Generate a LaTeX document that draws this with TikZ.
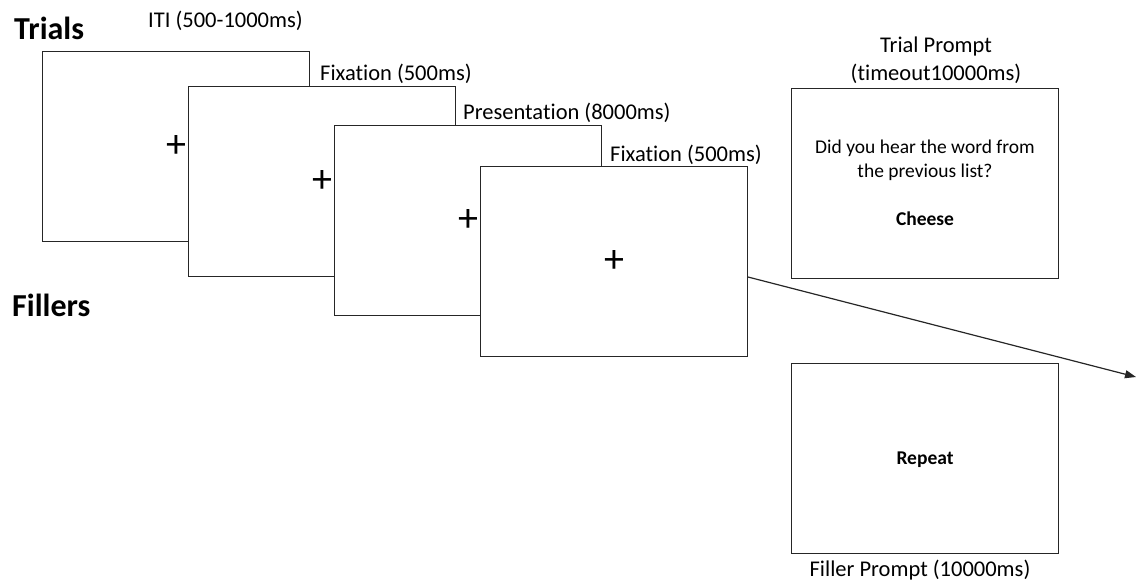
\documentclass[tikz,border=0pt]{standalone}
\usepackage{fontspec}
\setmainfont{Carlito}[Ligatures=NoCommon]
\usetikzlibrary{arrows.meta,positioning}
\tikzset{
  screen/.style={draw=black!85,line width=1pt,fill=white,minimum width=267pt,minimum height=190pt,inner sep=0pt,font=\fontsize{40}{40}\selectfont},
  cue/.style={font=\fontsize{22.5}{28}\selectfont,inner sep=0pt},
  heading/.style={font=\fontsize{32}{32}\selectfont\bfseries,inner sep=0pt},
  prompt/.style={font=\fontsize{19.5}{24}\selectfont,align=center,inner sep=0pt}
}

\begin{document}
\begin{tikzpicture}[x=1pt,y=-1pt]
        \useasboundingbox (0,0) rectangle (1139,584);
        \node[heading,anchor=base west] (trials) at (14,39) {Trials};
        \node[heading,anchor=base west] (fillers) at (12,316) {Fillers};
        % trial sequence
        \foreach \x/\y [count=\i] in {176/146,322/181,468/220,614/261} \node[screen] (s\i) at (\x,\y) {+};
        \node[cue,anchor=base west] (iti) at (148,27) {ITI (500-1000ms)};
        \node[cue,anchor=base west] (fix1) at (320,80) {Fixation (500ms)};
        \node[cue,anchor=base west] (pres) at (463,119) {Presentation (8000ms)};
        \node[cue,anchor=base west] (fix2) at (610,161) {Fixation (500ms)};
        % prompts
        \node[screen] (tprompt) at (925,183) {};
        \node[cue,align=center,anchor=south] (tlabel) at (936,84) {Trial Prompt\\(timeout10000ms)};
        \node[prompt] (question) at (925,160) {Did you hear the word from\\the previous list?};
        \node[prompt,font=\fontsize{19.5}{24}\selectfont\bfseries] (word) at (925,219) {Cheese};
        \node[screen] (fprompt) at (925,458) {};
        \node[prompt,font=\fontsize{19.5}{24}\selectfont\bfseries] (repeat) at (925,460) {Repeat};
        \node[cue] (flabel) at (920,570) {Filler Prompt (10000ms)};
        \coordinate (end) at (1136,377);
        \draw[-{Triangle[length=11pt,width=8pt]},line width=1.2pt,black!85] ([yshift=-16pt]s4.east) -- (end);
      \end{tikzpicture}
\end{document}
